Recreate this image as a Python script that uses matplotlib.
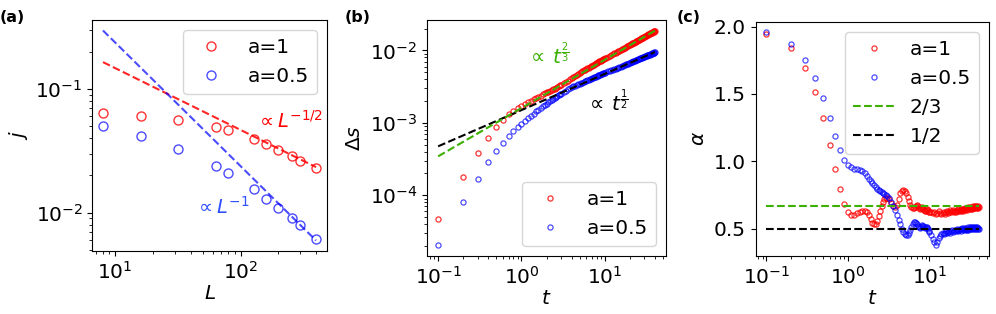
import numpy as np
import matplotlib
matplotlib.use("Agg")
import matplotlib.pyplot as plt

# ---- panel (a): current vs system size
L = [8, 16, 32, 64, 80, 128, 160, 200, 256, 300, 400]
j_a1 = [0.064, 0.0605, 0.0562, 0.049, 0.047, 0.0395, 0.0362, 0.0324, 0.0286, 0.0264, 0.0231]
j_a05 = [0.0499, 0.0415, 0.033, 0.0238, 0.021, 0.0154, 0.013, 0.011, 0.0091, 0.0079, 0.0061]
c_half = 0.467   # prefactor of L^-1/2 guide
c_one = 2.38     # prefactor of L^-1 guide

# ---- panels (b), (c): time grid of the samples
t = np.round(np.concatenate([np.arange(0.1, 3.05, 0.1),
                             np.arange(3.2, 10.05, 0.2),
                             np.arange(10.5, 40.05, 0.5)]), 2)

ds_a1 = [4.67e-5, 1.80e-4, 3.80e-4, 6.18e-4, 8.67e-4, 1.08e-3, 1.31e-3, 1.47e-3, 1.60e-3, 1.72e-3,
         1.823e-3, 1.921e-3, 2.017e-3, 2.112e-3, 2.206e-3, 2.297e-3, 2.386e-3, 2.472e-3, 2.551e-3, 2.626e-3,
         2.696e-3, 2.763e-3, 2.831e-3, 2.901e-3, 2.974e-3, 3.051e-3, 3.131e-3, 3.212e-3, 3.295e-3, 3.377e-3,
         3.538e-3, 3.693e-3, 3.839e-3, 3.980e-3, 4.118e-3, 4.259e-3, 4.408e-3, 4.562e-3, 4.717e-3, 4.870e-3,
         5.021e-3, 5.165e-3, 5.302e-3, 5.433e-3, 5.556e-3, 5.678e-3, 5.797e-3, 5.916e-3, 6.034e-3, 6.152e-3,
         6.270e-3, 6.385e-3, 6.496e-3, 6.606e-3, 6.717e-3, 6.826e-3, 6.934e-3, 7.038e-3, 7.141e-3, 7.244e-3,
         7.345e-3, 7.447e-3, 7.548e-3, 7.646e-3, 7.743e-3,
         7.98e-3, 8.22e-3, 8.45e-3, 8.67e-3, 8.90e-3, 9.12e-3, 9.33e-3, 9.54e-3, 9.75e-3, 9.96e-3,
         1.017e-2, 1.037e-2, 1.057e-2, 1.077e-2, 1.097e-2, 1.116e-2, 1.135e-2, 1.154e-2, 1.173e-2, 1.191e-2,
         1.211e-2, 1.230e-2, 1.249e-2, 1.268e-2, 1.287e-2, 1.305e-2, 1.323e-2, 1.341e-2, 1.359e-2, 1.377e-2,
         1.395e-2, 1.413e-2, 1.431e-2, 1.448e-2, 1.466e-2, 1.483e-2, 1.500e-2, 1.517e-2, 1.535e-2, 1.551e-2,
         1.568e-2, 1.585e-2, 1.602e-2, 1.618e-2, 1.634e-2, 1.651e-2, 1.667e-2, 1.683e-2, 1.699e-2, 1.715e-2,
         1.731e-2, 1.747e-2, 1.763e-2, 1.778e-2, 1.794e-2, 1.809e-2, 1.825e-2, 1.840e-2, 1.856e-2, 1.871e-2]

ds_a05 = [2.04e-5, 8.0e-5, 1.70e-4, 2.85e-4, 4.05e-4, 5.27e-4, 6.52e-4, 7.75e-4, 8.8e-4, 9.79e-4,
          1.072e-3, 1.165e-3, 1.257e-3, 1.346e-3, 1.436e-3, 1.523e-3, 1.609e-3, 1.691e-3, 1.772e-3, 1.850e-3,
          1.926e-3, 2.000e-3, 2.072e-3, 2.143e-3, 2.212e-3, 2.280e-3, 2.348e-3, 2.414e-3, 2.479e-3, 2.543e-3,
          2.667e-3, 2.785e-3, 2.896e-3, 2.999e-3, 3.096e-3, 3.186e-3, 3.268e-3, 3.343e-3, 3.413e-3, 3.479e-3,
          3.542e-3, 3.603e-3, 3.664e-3, 3.726e-3, 3.790e-3, 3.855e-3, 3.922e-3, 3.988e-3, 4.054e-3, 4.117e-3,
          4.178e-3, 4.237e-3, 4.295e-3, 4.352e-3, 4.409e-3, 4.466e-3, 4.523e-3, 4.579e-3, 4.633e-3, 4.686e-3,
          4.739e-3, 4.790e-3, 4.841e-3, 4.891e-3, 4.938e-3,
          5.051e-3, 5.154e-3, 5.249e-3, 5.337e-3, 5.424e-3, 5.513e-3, 5.605e-3, 5.699e-3, 5.796e-3, 5.891e-3,
          5.985e-3, 6.077e-3, 6.167e-3, 6.256e-3, 6.344e-3, 6.431e-3, 6.516e-3, 6.600e-3, 6.683e-3, 6.765e-3,
          6.846e-3, 6.925e-3, 7.004e-3, 7.082e-3, 7.159e-3, 7.235e-3, 7.310e-3, 7.385e-3, 7.458e-3, 7.531e-3,
          7.602e-3, 7.673e-3, 7.744e-3, 7.813e-3, 7.882e-3, 7.950e-3, 8.018e-3, 8.085e-3, 8.151e-3, 8.217e-3,
          8.282e-3, 8.347e-3, 8.411e-3, 8.474e-3, 8.537e-3, 8.600e-3, 8.662e-3, 8.724e-3, 8.785e-3, 8.846e-3,
          8.906e-3, 8.966e-3, 9.025e-3, 9.084e-3, 9.143e-3, 9.201e-3, 9.259e-3, 9.316e-3, 9.373e-3, 9.430e-3]
c_23 = 1.6e-3    # prefactor of t^2/3 guide
c_12 = 1.5e-3    # prefactor of t^1/2 guide

alpha_a1 = [1.946, 1.839, 1.693, 1.516, 1.320, 1.122, 0.941, 0.792, 0.685, 0.620,
            0.601, 0.603, 0.616, 0.626, 0.631, 0.633, 0.623, 0.601, 0.574, 0.544,
            0.532, 0.532, 0.556, 0.594, 0.631, 0.668, 0.698, 0.718, 0.728, 0.730,
            0.718, 0.693, 0.668, 0.658, 0.673, 0.718, 0.762, 0.782, 0.787, 0.782,
            0.767, 0.737, 0.703, 0.673, 0.663, 0.655, 0.652, 0.660, 0.670, 0.672,
            0.665, 0.655, 0.648, 0.652, 0.658, 0.655, 0.645, 0.635, 0.630, 0.632,
            0.640, 0.642, 0.635, 0.625, 0.620,
            0.625, 0.612, 0.622, 0.608, 0.618, 0.630, 0.612, 0.605, 0.618, 0.626,
            0.610, 0.620, 0.632, 0.615, 0.624, 0.636, 0.620, 0.628, 0.640, 0.625,
            0.633, 0.622, 0.638, 0.630, 0.642, 0.628, 0.636, 0.645, 0.632, 0.640,
            0.648, 0.634, 0.644, 0.650, 0.638, 0.646, 0.653, 0.640, 0.650, 0.657,
            0.644, 0.652, 0.660, 0.646, 0.655, 0.662, 0.648, 0.656, 0.664, 0.650,
            0.658, 0.666, 0.652, 0.660, 0.668, 0.654, 0.662, 0.668, 0.655, 0.662]

alpha_a05 = [1.958, 1.871, 1.754, 1.618, 1.469, 1.320, 1.190, 1.087, 1.010, 0.970,
             0.955, 0.945, 0.940, 0.935, 0.925, 0.910, 0.890, 0.870, 0.850, 0.835,
             0.820, 0.805, 0.795, 0.785, 0.778, 0.772, 0.766, 0.760, 0.752, 0.745,
             0.728, 0.700, 0.670, 0.635, 0.600, 0.565, 0.530, 0.500, 0.475, 0.460,
             0.452, 0.455, 0.470, 0.490, 0.510, 0.530, 0.545, 0.548, 0.540, 0.530,
             0.520, 0.510, 0.505, 0.510, 0.520, 0.525, 0.520, 0.510, 0.505, 0.508,
             0.510, 0.505, 0.495, 0.485, 0.475,
             0.450, 0.425, 0.398, 0.375, 0.400, 0.428, 0.448, 0.462, 0.470, 0.458,
             0.468, 0.478, 0.465, 0.474, 0.482, 0.470, 0.478, 0.488, 0.475, 0.483,
             0.492, 0.478, 0.486, 0.495, 0.480, 0.490, 0.498, 0.484, 0.493, 0.502,
             0.486, 0.495, 0.504, 0.488, 0.497, 0.506, 0.490, 0.498, 0.508, 0.492,
             0.500, 0.510, 0.494, 0.502, 0.511, 0.495, 0.503, 0.512, 0.496, 0.504,
             0.512, 0.497, 0.505, 0.513, 0.497, 0.505, 0.512, 0.498, 0.505, 0.496]

plt.rcParams['font.size'] = 14.5
green = '#3cb000'

fig = plt.figure(figsize=(9.96, 3.14), dpi=100)

# (a)
ax0 = fig.add_axes([0.0927, 0.2006, 0.2353, 0.7357])
L_arr = np.array(L, dtype=float)
ax0.plot(L, j_a1, 'o', color='red', mfc='none', ms=6.5, mew=1.0, alpha=0.8, label='a=1')
ax0.plot(L, j_a05, 'o', color='blue', mfc='none', ms=6.5, mew=1.0, alpha=0.7, label='a=0.5')
ax0.plot(L_arr, c_half * L_arr ** -0.5, '--', color='red', alpha=0.85, lw=1.5)
ax0.plot(L_arr, c_one / L_arr, '--', color='blue', alpha=0.7, lw=1.5)
ax0.set_xscale('log')
ax0.set_yscale('log')
ax0.set_xlabel(r'$L$', labelpad=1)
ax0.set_ylabel(r'$j$')
ax0.legend(loc='upper right')
ax0.text(0.985, 0.565, r'$\propto L^{-1/2}$', color='red', fontsize=14,
         transform=ax0.transAxes, va='center', ha='right')
ax0.text(0.44, 0.19, r'$\propto L^{-1}$', color='#3050ff', fontsize=14,
         transform=ax0.transAxes, va='center')
fig.text(0.0, 0.945, '(a)', fontsize=11.5, fontweight='bold', va='center')

# (b)
ax1 = fig.add_axes([0.429, 0.1847, 0.2394, 0.7516])
t_arr = np.array(t)
ax1.plot(t, ds_a1, 'o', color='red', mfc='none', ms=3.7, mew=0.9, alpha=0.8, label='a=1')
ax1.plot(t, ds_a05, 'o', color='blue', mfc='none', ms=3.7, mew=0.9, alpha=0.7, label='a=0.5')
ax1.plot(t_arr, c_12 * t_arr ** 0.5, '--', color='black', lw=1.5)
ax1.plot(t_arr, c_23 * t_arr ** (2 / 3), '--', color=green, lw=1.5)
ax1.set_xscale('log')
ax1.set_yscale('log')
ax1.set_xlabel(r'$t$', labelpad=1)
ax1.set_ylabel(r'$\Delta s$')
ax1.legend(loc='lower right')
ax1.text(0.42, 0.855, r'$\propto\,t^{\frac{2}{3}}$', color=green, transform=ax1.transAxes, va='center')
ax1.text(0.665, 0.655, r'$\propto\,t^{\frac{1}{2}}$', color='black', transform=ax1.transAxes, va='center')
fig.text(0.346, 0.945, '(b)', fontsize=11.5, fontweight='bold', va='center')

# (c)
ax2 = fig.add_axes([0.7587, 0.1847, 0.2345, 0.7462])
ax2.plot(t, alpha_a1, 'o', color='red', mfc='none', ms=3.7, mew=0.9, alpha=0.8, label='a=1')
ax2.plot(t, alpha_a05, 'o', color='blue', mfc='none', ms=3.7, mew=0.9, alpha=0.7, label='a=0.5')
ax2.plot([t[0], t[-1]], [2 / 3, 2 / 3], '--', color=green, lw=1.5, label='2/3')
ax2.plot([t[0], t[-1]], [1 / 2, 1 / 2], '--', color='black', lw=1.5, label='1/2')
ax2.set_xscale('log')
ax2.set_xlabel(r'$t$', labelpad=1)
ax2.set_ylabel(r'$\alpha$')
ax2.set_yticks([0.5, 1.0, 1.5, 2.0])
ax2.legend(loc='upper right')
fig.text(0.679, 0.945, '(c)', fontsize=11.5, fontweight='bold', va='center')

plt.savefig('out.png', dpi=100)
